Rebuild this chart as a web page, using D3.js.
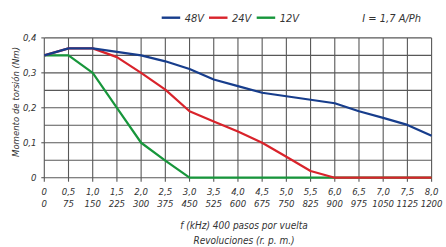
<!DOCTYPE html>
<html>
<head>
<meta charset="utf-8">
<script src="https://cdn.jsdelivr.net/npm/d3@7"></script>
<style>
  body { margin: 0; background: #fff; }
  text { font-family: "Liberation Sans Narrow", "DejaVu Sans Condensed", "Arial Narrow", sans-serif; font-style: italic; fill: #333; }
</style>
</head>
<body>
<div class="display"></div>
<script>
// Torque curves for three supply voltages
const WIDTH = 446;
const HEIGHT = 247;

const freq = [0, 0.5, 1.0, 1.5, 2.0, 2.5, 3.0, 3.5, 4.0, 4.5, 5.0, 5.5, 6.0, 6.5, 7.0, 7.5, 8.0];
const rpm = [0, 75, 150, 225, 300, 375, 450, 525, 600, 675, 750, 825, 900, 975, 1050, 1125, 1200];
const torque48 = [0.35, 0.37, 0.37, 0.36, 0.35, 0.333, 0.311, 0.281, 0.262, 0.243, 0.233, 0.223, 0.213, 0.19, 0.171, 0.151, 0.12];
const torque24 = [0.35, 0.37, 0.37, 0.345, 0.30, 0.252, 0.19, 0.161, 0.132, 0.10, 0.06, 0.019, 0, 0, 0, 0, 0];
const torque12 = [0.35, 0.35, 0.30, 0.20, 0.10, 0.049, 0, 0, 0, 0, 0, 0, 0, 0, 0, 0, 0];
const yTicks = [0, 0.1, 0.2, 0.3, 0.4];
const yGrid = [0, 0.05, 0.1, 0.15, 0.2, 0.25, 0.3, 0.35, 0.4];

const series = [
  { name: '48V', values: torque48, color: '#173d8c' },
  { name: '24V', values: torque24, color: '#d9232b' },
  { name: '12V', values: torque12, color: '#17963b' }
];

const svg = d3.select('.display')
  .append('svg')
  .attr('width', WIDTH)
  .attr('height', HEIGHT);

const x = d3.scaleLinear().domain([0, 8]).range([44.3, 431.6]);
const y = d3.scaleLinear().domain([0, 0.4]).range([177.7, 37.9]);
const fmt = d => d3.format('.1f')(d).replace('.', ',');

// grid
const grid = svg.append('g').attr('stroke', '#585858').attr('stroke-width', 1.1);
grid.selectAll('.v')
  .data(freq)
  .enter()
  .append('line')
  .attr('x1', d => x(d)).attr('x2', d => x(d))
  .attr('y1', y(0.4)).attr('y2', y(0) + 4);
grid.selectAll('.h')
  .data(yGrid)
  .enter()
  .append('line')
  .attr('x1', x(0)).attr('x2', x(8))
  .attr('y1', d => y(d)).attr('y2', d => y(d));
grid.selectAll('.yt')
  .data(yTicks)
  .enter()
  .append('line')
  .attr('x1', x(0) - 3).attr('x2', x(0))
  .attr('y1', d => y(d)).attr('y2', d => y(d));

// tick labels
svg.selectAll('.ylab')
  .data(yTicks)
  .enter()
  .append('text')
  .attr('x', 36.5)
  .attr('y', d => y(d) + 3.5)
  .attr('text-anchor', 'end')
  .attr('font-size', 9.5)
  .text(d => d === 0 ? '0' : fmt(d));

svg.selectAll('.xlab')
  .data(freq)
  .enter()
  .append('text')
  .attr('x', d => x(d))
  .attr('y', 195)
  .attr('text-anchor', 'middle')
  .attr('font-size', 9.5)
  .text(d => d === 0 ? '0' : fmt(d));

svg.selectAll('.rlab')
  .data(rpm)
  .enter()
  .append('text')
  .attr('x', (d, i) => x(freq[i]))
  .attr('y', 206.5)
  .attr('text-anchor', 'middle')
  .attr('font-size', 9.5)
  .text(d => d);

// lines
const line = d3.line()
  .x((d, i) => x(freq[i]))
  .y(d => y(d));

svg.selectAll('.curve')
  .data(series.slice().reverse())
  .enter()
  .append('path')
  .attr('fill', 'none')
  .attr('stroke', d => d.color)
  .attr('stroke-width', 2.2)
  .attr('stroke-linejoin', 'round')
  .attr('d', d => line(d.values));

// axis titles
svg.append('text')
  .attr('x', 244).attr('y', 228.5)
  .attr('text-anchor', 'middle')
  .attr('font-size', 10)
  .text('f (kHz) 400 pasos por vuelta');
svg.append('text')
  .attr('x', 244).attr('y', 244)
  .attr('text-anchor', 'middle')
  .attr('font-size', 10)
  .text('Revoluciones (r. p. m.)');
svg.append('text')
  .attr('transform', 'translate(18.5,102) rotate(-90)')
  .attr('text-anchor', 'middle')
  .attr('font-size', 9.5)
  .text('Momento de torsión (Nm)');

// legend
const legendX = [161.7, 209, 256.7];
const legend = svg.selectAll('.legend')
  .data(series)
  .enter()
  .append('g')
  .attr('transform', (d, i) => `translate(${legendX[i]},17.7)`);
legend.append('line')
  .attr('x1', 0).attr('x2', 18.5)
  .attr('stroke', d => d.color)
  .attr('stroke-width', 2.4);
legend.append('text')
  .attr('x', 23).attr('y', 4)
  .attr('font-size', 11)
  .text(d => d.name);

svg.append('text')
  .attr('x', 421).attr('y', 21.5)
  .attr('text-anchor', 'end')
  .attr('font-size', 11)
  .text('I = 1,7 A/Ph');
</script>
</body>
</html>
